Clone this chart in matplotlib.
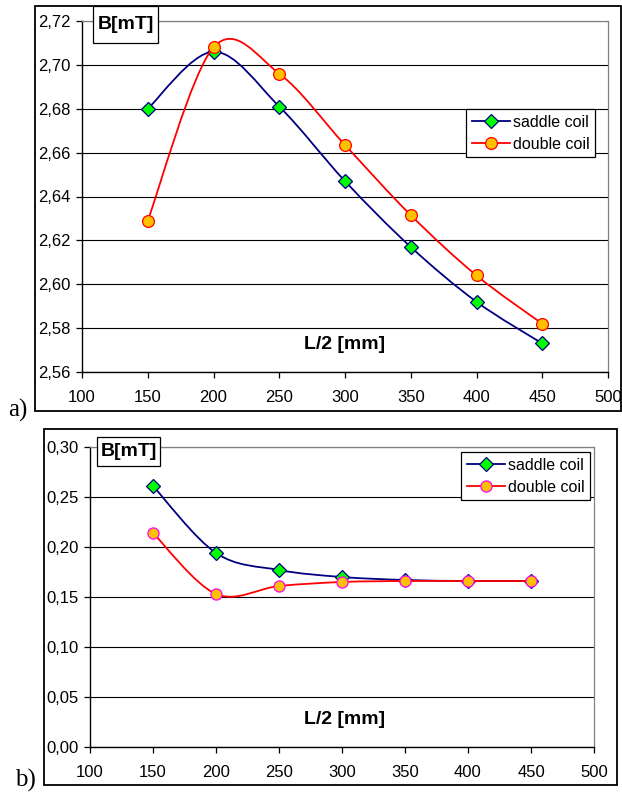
import numpy as np
import matplotlib
matplotlib.use("Agg")
import matplotlib.pyplot as plt
from matplotlib.path import Path
from matplotlib.patches import PathPatch, Rectangle
from matplotlib.lines import Line2D
from matplotlib.ticker import FuncFormatter, MultipleLocator

plt.rcParams['font.family'] = ['Liberation Sans', 'DejaVu Sans']

# half length of the coil, mm
L_half = [150, 200, 250, 300, 350, 400, 450]

# a) field at the centre
saddle_a = [2.680, 2.706, 2.681, 2.647, 2.617, 2.592, 2.573]
double_a = [2.629, 2.708, 2.696, 2.6635, 2.6315, 2.604, 2.582]

# b) field ...
saddle_b = [0.261, 0.194, 0.177, 0.170, 0.167, 0.166, 0.166]
double_b = [0.214, 0.153, 0.161, 0.165, 0.166, 0.166, 0.166]

NAVY = "#000080"
RED = "#ff0000"
GREEN = "#00ff00"
GOLD = "#ffc000"
MAGENTA = "#ff00ff"

W, H = 622, 794


def smooth_path(x, y):
    """Excel style smoothed line: cubic Bezier through every point."""
    p = np.column_stack([x, y]).astype(float)
    ext = np.vstack([p[0], p, p[-1]])
    verts = [p[0]]
    codes = [Path.MOVETO]
    for i in range(len(p) - 1):
        a, b, c, d = ext[i], ext[i + 1], ext[i + 2], ext[i + 3]
        verts += [b + (c - a) / 6.0, c - (d - b) / 6.0, c]
        codes += [Path.CURVE4] * 3
    return Path(verts, codes)


def comma_fmt(v, pos):
    return f"{v:.2f}".replace(".", ",")


def px_rect(x0, y0, x1, y1, **kw):
    # rectangle given in pixel coordinates, origin top-left
    return Rectangle((x0 / W, 1 - y1 / H), (x1 - x0) / W, (y1 - y0) / H,
                     transform=fig.transFigure, **kw)


def draw_panel(rect, ylim, ystep, s_vals, d_vals, d_edge, leg_xy, title_box, xlabel_px,
               ms_circle):
    x0, y0, x1, y1 = rect
    ax = fig.add_axes([x0 / W, 1 - y1 / H, (x1 - x0) / W, (y1 - y0) / H])
    ax.set_xlim(100, 500)
    ax.set_ylim(*ylim)
    ax.xaxis.set_major_locator(MultipleLocator(50))
    ax.yaxis.set_major_locator(MultipleLocator(ystep))
    ax.yaxis.set_major_formatter(FuncFormatter(comma_fmt))
    ax.grid(axis="y", color="black", lw=0.8)
    ax.set_axisbelow(True)
    for side in ("top", "right"):
        ax.spines[side].set_color("#808080")
        ax.spines[side].set_linewidth(0.9)
    for side in ("left", "bottom"):
        ax.spines[side].set_linewidth(1.0)
    ax.tick_params(axis="y", length=4, width=0.9, pad=4, labelsize=12)
    ax.tick_params(axis="x", length=4, width=0.9, pad=9, labelsize=12)

    ax.add_patch(PathPatch(smooth_path(L_half, s_vals), fill=False, ec=NAVY, lw=1.3,
                           transform=ax.transData, zorder=3))
    ax.plot(L_half, s_vals, ls="none", marker="D", ms=7, mfc=GREEN, mec=NAVY,
            mew=0.9, zorder=4)
    ax.add_patch(PathPatch(smooth_path(L_half, d_vals), fill=False, ec=RED, lw=1.3,
                           transform=ax.transData, zorder=5))
    ax.plot(L_half, d_vals, ls="none", marker="o", ms=ms_circle, mfc=GOLD, mec=d_edge,
            mew=0.9, zorder=6)

    handles = [
        Line2D([], [], color=NAVY, lw=1.3, marker="D", ms=7, mfc=GREEN, mec=NAVY, mew=0.9),
        Line2D([], [], color=RED, lw=1.3, marker="o", ms=ms_circle, mfc=GOLD, mec=d_edge,
               mew=0.9),
    ]
    lx, ly = leg_xy
    leg = ax.legend(handles, ["saddle coil", "double coil"],
                    loc="upper left",
                    bbox_to_anchor=((lx - x0) / (x1 - x0), (y1 - ly) / (y1 - y0)),
                    fontsize=11.5, frameon=True, fancybox=False, framealpha=1,
                    edgecolor="black", borderpad=0.35, handlelength=2.4,
                    handletextpad=0.2, labelspacing=0.45, borderaxespad=0)
    leg.get_frame().set_linewidth(0.9)
    leg.set_zorder(10)

    # unit label in its own little box at the top of the value axis
    bx0, by0, bx1, by1 = title_box
    fig.add_artist(px_rect(bx0, by0, bx1, by1, fc="white", ec="black", lw=0.9, zorder=9))
    fig.text((bx0 + bx1) / 2 / W, 1 - (by0 + by1) / 2 / H, "B[mT]", fontsize=14,
             fontweight="bold", ha="center", va="center", zorder=10)
    fig.text(xlabel_px[0] / W, 1 - xlabel_px[1] / H, "L/2 [mm]", fontsize=14,
             fontweight="bold", ha="center", va="center")
    return ax


fig = plt.figure(figsize=(W / 100, H / 100), dpi=100)

# outer frames of both charts
for frame in [(35, 6, 621, 411), (44, 429, 617, 785)]:
    fig.add_artist(px_rect(*frame, fill=False, ec="black", lw=1.3))

draw_panel((82, 21, 608, 372), (2.56, 2.72), 0.02, saddle_a, double_a, RED,
           (466, 109), (93, 6, 158, 43), (345, 345), 8.5)
draw_panel((90, 447, 594, 747), (0.0, 0.30), 0.05, saddle_b, double_b, MAGENTA,
           (461, 452), (97, 437, 160, 466), (345, 720), 8)

fig.text(18 / W, 1 - 410 / H, "a)", family=["Liberation Serif"], fontsize=18,
         ha="center", va="center")
fig.text(25 / W, 1 - 780 / H, "b)", family=["Liberation Serif"], fontsize=18,
         ha="center", va="center")

fig.savefig("out.png", dpi=100)
